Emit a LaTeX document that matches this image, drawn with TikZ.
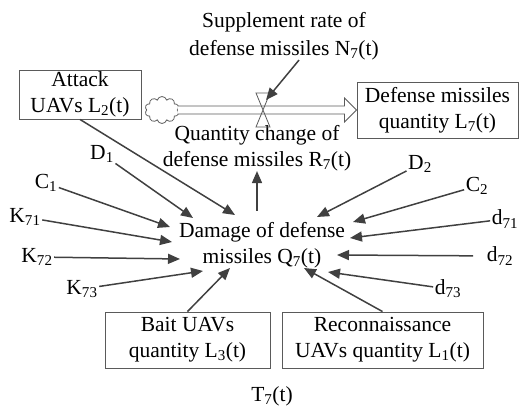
\documentclass[tikz,border=0pt]{standalone}
\usepackage{fontspec}
\setmainfont{Liberation Serif}
\usetikzlibrary{arrows.meta,shapes.symbols,calc}
\definecolor{arrgray}{HTML}{404040}
\definecolor{boxgray}{HTML}{5A5A5A}
\newcommand{\sbs}[1]{\textsubscript{#1}}

\begin{document}
\begin{tikzpicture}[x=1pt,y=-1pt,
  every node/.style={font=\fontsize{21.5}{26}\selectfont},
  box/.style={draw=boxgray, line width=0.9pt, align=center, inner sep=0pt},
  lbl/.style={inner sep=1.5pt},
  txt/.style={align=center, inner sep=0pt},
  arr/.style={draw=arrgray, line width=1.5pt, -{Triangle[length=12pt,width=10pt]}},
  pipe/.style={draw=boxgray, line width=0.8pt}]

\useasboundingbox (0,0) rectangle (522,409);

% stocks, flows and auxiliaries
\node[txt] (supp) at (284,36) {Supplement rate of\\[2pt] defense missiles N\sbs{7}(t)};
\node[box, minimum width=122, minimum height=49] (att) at (80,94.5) {Attack\\UAVs L\sbs{2}(t)};
\node[draw=boxgray, line width=0.8pt, cloud, cloud puffs=10, aspect=1.25,
      minimum width=34, minimum height=27, inner sep=0pt] (cloud) at (162,110) {};
\node[box, minimum width=161, minimum height=56] (def) at (437.5,110) {Defense missiles\\quantity L\sbs{7}(t)};
\node[txt] (qty) at (257,148) {Quantity change of\\defense missiles R\sbs{7}(t)};
\node[txt, inner ysep=11pt] (dmg) at (262,245) {Damage of defense\\missiles Q\sbs{7}(t)};
\node[box, minimum width=165, minimum height=56] (bait) at (187.5,340) {Bait UAVs\\quantity L\sbs{3}(t)};
\node[box, minimum width=201, minimum height=56] (recon) at (382.5,340) {Reconnaissance\\UAVs quantity L\sbs{1}(t)};
\node[txt] (T7) at (272,396) {T\sbs{7}(t)};

% parameters
\node[lbl] (D1)  at (102,154) {D\sbs{1}};
\node[lbl] (C1)  at (46,183)  {C\sbs{1}};
\node[lbl] (K71) at (25,217)  {K\sbs{71}};
\node[lbl] (K72) at (37,257)  {K\sbs{72}};
\node[lbl] (K73) at (82,289)  {K\sbs{73}};
\node[lbl] (D2)  at (420,164) {D\sbs{2}};
\node[lbl] (C2)  at (477,186) {C\sbs{2}};
\node[lbl] (d71) at (505,219) {d\sbs{71}};
\node[lbl] (d72) at (500,256) {d\sbs{72}};
\node[lbl] (d73) at (448,289) {d\sbs{73}};

% flow pipe with valve
\coordinate (valve) at (263,110);
\draw[pipe, fill=white] ($(cloud.east)+(0,-4)$) -- ($(def.west)+(-12,-4)$) -- ($(def.west)+(-12,-12)$)
  -- (def.west) -- ($(def.west)+(-12,12)$) -- ($(def.west)+(-12,4)$) -- ($(cloud.east)+(0,4)$);
\draw[pipe] ($(valve)+(-7,-17)$) -- ($(valve)+(7,-17)$) -- ($(valve)+(-7,17)$) -- ($(valve)+(7,17)$) -- cycle;
\coordinate (valvein) at (266,100);
\draw[arr] (supp.-58) -- (valvein);

% arrow ends around the damage auxiliary
\coordinate (tD1)  at (193,218);
\coordinate (tAtt) at (235,215);
\coordinate (tC1)  at (170,227);
\coordinate (tK71) at (172,242);
\coordinate (tK72) at (180,259);
\coordinate (tK73) at (203,271);
\coordinate (tBait) at (230,268);
\coordinate (tRecon) at (304,268);
\coordinate (td73) at (328,272);
\coordinate (td72) at (337,255);
\coordinate (td71) at (350,238);
\coordinate (tC2)  at (353,222);
\coordinate (tD2)  at (317,217);

\draw[arr] (dmg.north -| qty.south) -- (qty.south);
\draw[arr] (att.south) -- (tAtt);
\draw[arr] (D1) -- (tD1);
\draw[arr] (C1) -- (tC1);
\draw[arr] (K71) -- (tK71);
\draw[arr] (K72) -- (tK72);
\draw[arr] (K73) -- (tK73);
\draw[arr] (bait.north) -- (tBait);
\draw[arr] (recon.north) -- (tRecon);
\draw[arr] (d73) -- (td73);
\draw[arr, shorten <=12pt] (d72) -- (td72);
\draw[arr] (d71) -- (td71);
\draw[arr] (C2) -- (tC2);
\draw[arr] (D2) -- (tD2);
\end{tikzpicture}
\end{document}
